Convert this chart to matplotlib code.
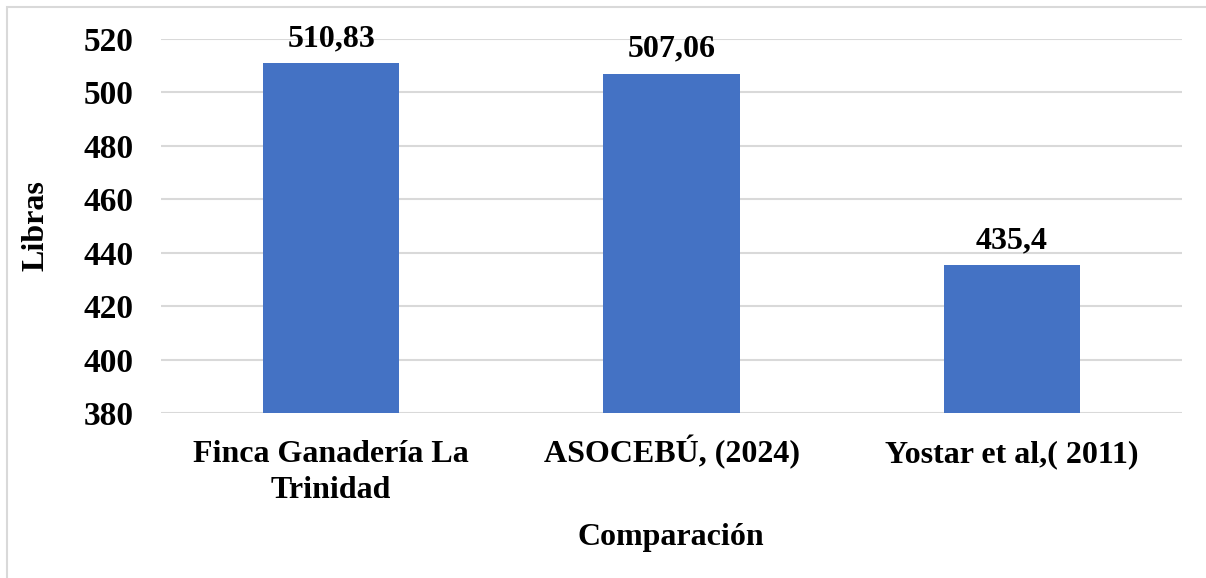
import matplotlib
matplotlib.use("Agg")
import matplotlib.pyplot as plt
from matplotlib.patches import Rectangle
from matplotlib.transforms import blended_transform_factory

categories = ["Finca Ganadería La\nTrinidad", "ASOCEBÚ, (2024)", "Yostar et al,( 2011)"]
values = [510.83, 507.06, 435.4]
value_labels = ["510,83", "507,06", "435,4"]
yticks = [380, 400, 420, 440, 460, 480, 500, 520]

plt.rcParams['font.family'] = ['Liberation Serif', 'DejaVu Serif']
plt.rcParams['font.weight'] = 'bold'

FS = 23
AX_H = 413 - 39

fig = plt.figure(figsize=(12.06, 5.78), dpi=100)
fig.patches.append(Rectangle((7/1206, -0.1), 1.2, 1 - 7/578 + 0.1, transform=fig.transFigure,
                             fill=False, edgecolor='#d9d9d9', linewidth=1.5))
ax = fig.add_axes([161/1206, 1 - 413/578, (1182 - 161)/1206, AX_H/578])

x = list(range(len(categories)))
ax.bar(x, values, width=0.4, color='#4472C4', zorder=3)
ax.set_ylim(380, 520)
ax.set_xlim(-0.5, 2.5)
ax.set_yticks(yticks)
ax.set_xticks(x)
ax.set_xticklabels([])
ax.tick_params(axis='y', labelsize=24, length=0, pad=20)
ax.tick_params(axis='x', length=0)
for lbl in ax.get_yticklabels():
    lbl.set_fontweight('bold')
ax.grid(axis='y', color='#d9d9d9', linewidth=1.5, zorder=0)
for s in ax.spines.values():
    s.set_visible(False)

trans = blended_transform_factory(ax.transData, ax.transAxes)
for xi, c in zip(x, categories):
    lines = c.split("\n")
    for k, line in enumerate(lines):
        base = 462 + 36 * k
        ax.text(xi, -(base - 413)/AX_H, line, transform=trans, ha='center', va='baseline',
                fontsize=FS, fontweight='bold')

for xi, v, t in zip(x, values, value_labels):
    ax.annotate(t, (xi, v), xytext=(0, 7), textcoords='offset points',
                ha='center', va='bottom', fontsize=FS, fontweight='bold')

ax.set_ylabel("Libras", fontsize=FS, fontweight='bold')
ax.yaxis.set_label_coords((50 - 161)/1021, 0.5)
ax.text((671 - 161)/1021, -(545 - 413)/AX_H, "Comparación", transform=ax.transAxes,
        ha='center', va='baseline', fontsize=FS, fontweight='bold')

fig.savefig("out.png", dpi=100)
